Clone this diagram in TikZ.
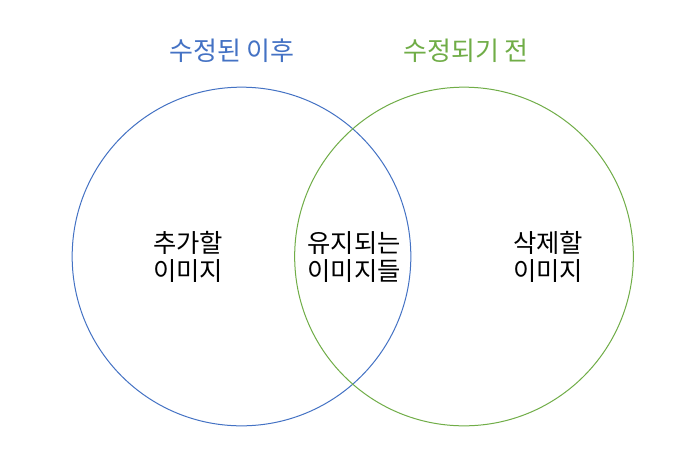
\documentclass[tikz,border=0pt]{standalone}
\usepackage{fontspec}
\newfontfamily\cjk{Noto Sans CJK KR}
\definecolor{obl}{HTML}{4472C4}
\definecolor{ogr}{HTML}{70AD47}
\begin{document}
\begin{tikzpicture}[x=0.75pt,y=-0.75pt,
  lbl/.style={font=\cjk\fontsize{19}{20.5}\selectfont, align=center, inner sep=0pt},
  ttl/.style={font=\cjk\fontsize{19.5}{21}\selectfont, inner sep=0pt},
  ring/.style={draw, line width=0.75pt, circle, minimum size=254pt, inner sep=0pt}]
\useasboundingbox[fill=white] (0,0) rectangle (685,458);
\node[ring, draw=obl] (L) at (241.5,256.5) {};
\node[ring, draw=ogr] (R) at (464,256.5) {};
\node[ttl, text=obl] (tL) at (232,51) {수정된 이후};
\node[ttl, text=ogr] (tR) at (466,51) {수정되기 전};
\node[lbl] (a) at (188,257) {추가할\\이미지};
\node[lbl] (b) at (354,257) {유지되는\\이미지들};
\node[lbl] (c) at (548,257) {삭제할\\이미지};
\end{tikzpicture}
\end{document}
